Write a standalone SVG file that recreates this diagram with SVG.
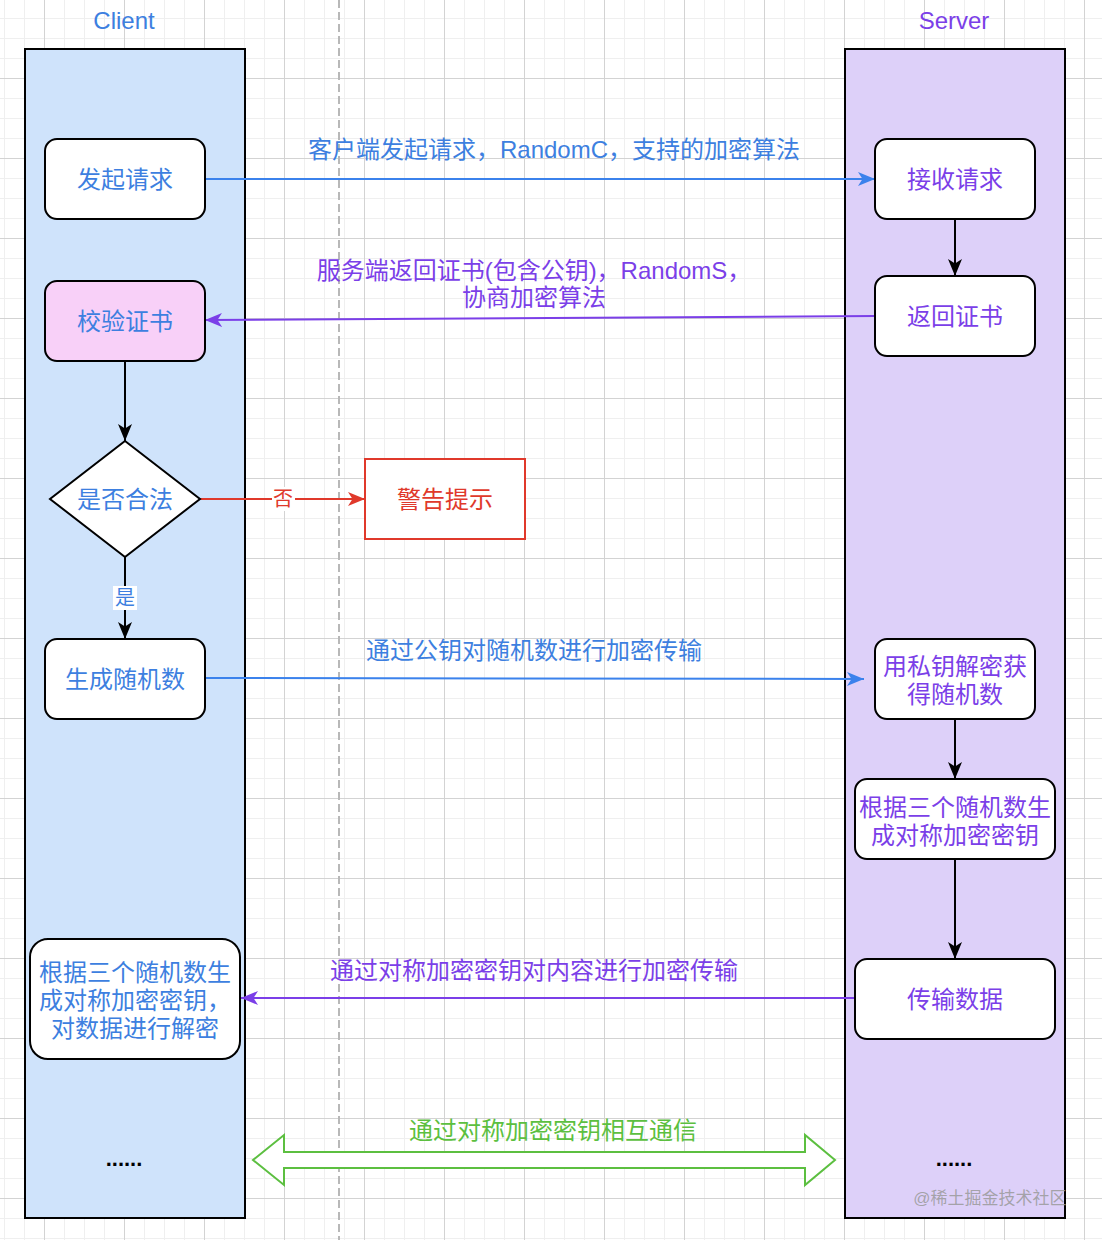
<svg xmlns="http://www.w3.org/2000/svg" width="1102" height="1240" viewBox="0 0 1102 1240">
  <style>
    .t { font-family: "Liberation Sans", "Noto Sans CJK SC", sans-serif; font-size: 24px; text-anchor: middle; dominant-baseline: central; }
    .blue { fill: #3d7fe0; }
    .purple { fill: #7b3fe8; }
    .red { fill: #e0392b; }
    .green { fill: #5cbf40; }
    .node { fill: #ffffff; stroke: #000000; stroke-width: 2; }
    .lane { stroke: #000000; stroke-width: 2; }
    .c { fill: none; stroke-width: 2; }
    .cb { stroke: #000000; marker-end: url(#ab); }
    .cbl { stroke: #3b82ec; marker-end: url(#abl); }
    .cp { stroke: #7b3fe8; marker-end: url(#ap); }
    .cr { stroke: #e0392b; marker-end: url(#ar); }
  </style>
  <defs>
    <pattern id="grid" x="44" y="78" width="80" height="80" patternUnits="userSpaceOnUse">
      <path d="M20.5 0V80M40.5 0V80M60.5 0V80M0 20.5H80M0 40.5H80M0 60.5H80" stroke="#efefef" stroke-width="1" fill="none"/>
      <path d="M0.5 0V80M0 0.5H80" stroke="#d3d3d3" stroke-width="1" fill="none"/>
    </pattern>
    <marker id="ab" markerUnits="userSpaceOnUse" markerWidth="18" markerHeight="16" refX="17" refY="8" orient="auto">
      <path d="M0 1L17 8L0 15L4.5 8Z" fill="#000000"/>
    </marker>
    <marker id="abl" markerUnits="userSpaceOnUse" markerWidth="18" markerHeight="16" refX="17" refY="8" orient="auto">
      <path d="M0 1L17 8L0 15L4.5 8Z" fill="#3b82ec"/>
    </marker>
    <marker id="ap" markerUnits="userSpaceOnUse" markerWidth="18" markerHeight="16" refX="17" refY="8" orient="auto">
      <path d="M0 1L17 8L0 15L4.5 8Z" fill="#7b3fe8"/>
    </marker>
    <marker id="ar" markerUnits="userSpaceOnUse" markerWidth="18" markerHeight="16" refX="17" refY="8" orient="auto">
      <path d="M0 1L17 8L0 15L4.5 8Z" fill="#e0392b"/>
    </marker>
  </defs>

  <rect x="0" y="0" width="1102" height="1240" fill="#ffffff"/>
  <rect x="0" y="0" width="1102" height="1240" fill="url(#grid)"/>
  <line x1="339" y1="0" x2="339" y2="1240" stroke="#b8b8b8" stroke-width="2" stroke-dasharray="8 4"/>

  <g id="lane-client">
    <rect class="lane" x="25" y="49" width="220" height="1169" fill="#cfe3fb"/>
    <text class="t blue" x="124" y="20">Client</text>
  </g>
  <g id="lane-server">
    <rect class="lane" x="845" y="49" width="220" height="1169" fill="#ddd0f9"/>
    <text class="t purple" x="954" y="20">Server</text>
  </g>

  <g id="connectors">
    <line class="c cbl" x1="205" y1="179" x2="875" y2="179"/>
    <text class="t blue" x="554" y="149">客户端发起请求，RandomC，支持的加密算法</text>

    <line class="c cb" x1="955" y1="219" x2="955" y2="276"/>

    <line class="c cp" x1="875" y1="316" x2="205" y2="320"/>
    <text class="t purple" x="534" y="270">服务端返回证书(包含公钥)，RandomS，</text>
    <text class="t purple" x="534" y="297">协商加密算法</text>

    <line class="c cb" x1="125" y1="361" x2="125" y2="441"/>

    <line class="c cr" x1="200" y1="499" x2="365" y2="499"/>
    <rect x="272" y="487" width="23" height="24" fill="#ffffff"/>
    <text class="t red" x="283" y="499" style="font-size:20px">否</text>

    <line class="c cb" x1="125" y1="557" x2="125" y2="639"/>
    <rect x="113" y="586" width="24" height="24" fill="#ffffff"/>
    <text class="t blue" x="125" y="598" style="font-size:20px">是</text>

    <line class="c cbl" x1="205" y1="678" x2="864" y2="679"/>
    <text class="t blue" x="534" y="650">通过公钥对随机数进行加密传输</text>

    <line class="c cb" x1="955" y1="719" x2="955" y2="779"/>
    <line class="c cb" x1="955" y1="859" x2="955" y2="959"/>

    <line class="c cp" x1="855" y1="998" x2="241" y2="998"/>
    <text class="t purple" x="534" y="970">通过对称加密密钥对内容进行加密传输</text>

    <polygon points="253,1160 284,1135 284,1152 805,1152 805,1135 835,1160 805,1185 805,1168 284,1168 284,1185" fill="#ffffff" stroke="#5cbf40" stroke-width="2" stroke-linejoin="miter"/>
    <text class="t green" x="553" y="1130">通过对称加密密钥相互通信</text>
  </g>

  <g id="n-fqqq">
    <rect class="node" x="45" y="139" width="160" height="80" rx="12"/>
    <text class="t blue" x="125" y="179">发起请求</text>
  </g>
  <g id="n-jsqq">
    <rect class="node" x="875" y="139" width="160" height="80" rx="12"/>
    <text class="t purple" x="955" y="179">接收请求</text>
  </g>
  <g id="n-fhzs">
    <rect class="node" x="875" y="276" width="160" height="80" rx="12"/>
    <text class="t purple" x="955" y="316">返回证书</text>
  </g>
  <g id="n-jyzs">
    <rect class="node" x="45" y="281" width="160" height="80" rx="12" style="fill:#f8d0f8"/>
    <text class="t blue" x="125" y="321">校验证书</text>
  </g>
  <g id="n-sfhf">
    <polygon class="node" points="125,441 200,499 125,557 50,499"/>
    <text class="t blue" x="125" y="499">是否合法</text>
  </g>
  <g id="n-jgts">
    <rect x="365" y="459" width="160" height="80" fill="#ffffff" stroke="#e0392b" stroke-width="2"/>
    <text class="t red" x="445" y="499">警告提示</text>
  </g>
  <g id="n-scsjs">
    <rect class="node" x="45" y="639" width="160" height="80" rx="12"/>
    <text class="t blue" x="125" y="679">生成随机数</text>
  </g>
  <g id="n-sypjm">
    <rect class="node" x="875" y="639" width="160" height="80" rx="12"/>
    <text class="t purple" x="955" y="666">用私钥解密获</text>
    <text class="t purple" x="955" y="694">得随机数</text>
  </g>
  <g id="n-gjsc-server">
    <rect class="node" x="855" y="779" width="200" height="80" rx="12"/>
    <text class="t purple" x="955" y="807">根据三个随机数生</text>
    <text class="t purple" x="955" y="835">成对称加密密钥</text>
  </g>
  <g id="n-csjs">
    <rect class="node" x="855" y="959" width="200" height="80" rx="12"/>
    <text class="t purple" x="955" y="999">传输数据</text>
  </g>
  <g id="n-gjsc-client">
    <rect class="node" x="30" y="939" width="210" height="120" rx="18"/>
    <text class="t blue" x="135" y="972">根据三个随机数生</text>
    <text class="t blue" x="135" y="1000">成对称加密密钥，</text>
    <text class="t blue" x="135" y="1028">对数据进行解密</text>
  </g>
  <g id="n-more-client">
    <text class="t" x="124" y="1158" style="fill:#000000;font-size:22px;font-weight:bold">......</text>
  </g>
  <g id="n-more-server">
    <text class="t" x="954" y="1158" style="fill:#000000;font-size:22px;font-weight:bold">......</text>
  </g>
  <text class="t" x="990" y="1198" style="fill:#9a9a9a;font-size:17px;fill-opacity:0.85">@稀土掘金技术社区</text>
</svg>
